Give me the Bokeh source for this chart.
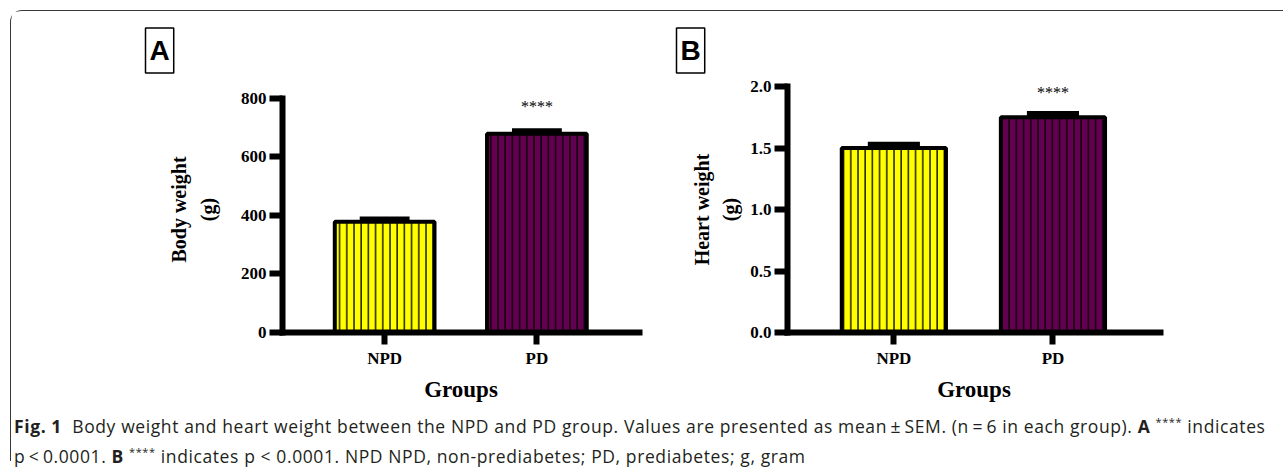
from bokeh.plotting import figure
from bokeh.models import ColumnDataSource, FixedTicker, Div, Range1d, PrintfTickFormatter, Title
from bokeh.layouts import row, column
from bokeh.embed import file_html
from bokeh.resources import INLINE
from bokeh.core.properties import value

# ---- data ----
groups = ["NPD", "PD"]
body_weight = [378, 678]
body_weight_sem = [9, 10]
heart_weight = [1.50, 1.75]
heart_weight_sem = [0.03, 0.03]
significance = ["", "****"]
body_ticks = [0, 200, 400, 600, 800]
heart_ticks = [0.0, 0.5, 1.0, 1.5, 2.0]
bar_colors = ["#FFFF00", "#640050"]
hatch_colors = ["#2e2e00", "#14000f"]

SERIF = "Liberation Serif"
BAR_W = 0.655


def make_panel(letter, ylabel, vals, sems, ticks, y_end, fmt, x_range, frame_w,
               b_left, b_right, ylabel_standoff, star_offset, letter_offset):
    xs = [i + 1 for i in range(len(groups))]
    tops = [v + s for v, s in zip(vals, sems)]
    src = ColumnDataSource(dict(
        x=xs, top=vals, err=tops, color=bar_colors, hatch=hatch_colors,
        cap0=[x - BAR_W / 4 for x in xs], cap1=[x + BAR_W / 4 for x in xs],
        sig=significance,
    ))
    p = figure(frame_width=frame_w, frame_height=246,
               x_range=Range1d(*x_range), y_range=Range1d(ticks[0], y_end),
               output_backend="svg", toolbar_location=None,
               min_border_left=b_left, min_border_top=75,
               min_border_right=b_right, min_border_bottom=75)
    p.outline_line_color = None
    p.grid.visible = False
    p.background_fill_color = "white"
    p.border_fill_color = "white"

    p.vbar(x="x", top="top", bottom=0, width=BAR_W, source=src,
           fill_color="color", line_color="black", line_width=4,
           hatch_pattern="vertical_line", hatch_color="hatch",
           hatch_scale=7.2, hatch_weight=1.6)
    p.segment(x0="x", y0="top", x1="x", y1="err", source=src,
              line_color="black", line_width=4)
    p.segment(x0="cap0", y0="err", x1="cap1", y1="err", source=src,
              line_color="black", line_width=5)
    p.text(x="x", y="err", text="sig", source=src, y_offset=star_offset,
           text_align="center", text_baseline="middle",
           text_font=value(SERIF), text_font_size="16px", text_color="black")

    for ax in (p.xaxis[0], p.yaxis[0]):
        ax.axis_line_width = 6
        ax.axis_line_color = "black"
        ax.axis_line_cap = "square"
        ax.major_tick_line_width = 6
        ax.major_tick_line_color = "black"
        ax.major_tick_in = 0
        ax.minor_tick_line_color = None
        ax.major_label_text_font = SERIF
        ax.major_label_text_font_style = "bold"
        ax.major_label_text_font_size = "17px"
        ax.major_label_text_color = "black"
        ax.axis_label_text_font = SERIF
        ax.axis_label_text_font_style = "bold"
        ax.axis_label_text_color = "black"

    xa = p.xaxis[0]
    xa.ticker = FixedTicker(ticks=xs)
    xa.major_label_overrides = {x: g for x, g in zip(xs, groups)}
    xa.major_tick_out = 12
    xa.major_label_standoff = 4
    xa.axis_label = "Groups"
    xa.axis_label_text_font_size = "23px"
    xa.axis_label_standoff = 6

    ya = p.yaxis[0]
    ya.ticker = FixedTicker(ticks=ticks)
    ya.bounds = (ticks[0], ticks[-1])
    ya.formatter = PrintfTickFormatter(format=fmt)
    ya.major_tick_out = 13
    ya.major_label_standoff = 3
    ya.axis_label = ylabel
    ya.axis_label_text_font_size = "20px"
    ya.axis_label_text_line_height = 1.3
    ya.axis_label_standoff = ylabel_standoff

    p.add_layout(Title(text=letter, align="left", offset=letter_offset,
                       vertical_align="top", standoff=23,
                       text_font="Liberation Sans", text_font_style="bold",
                       text_font_size="28px", text_color="black",
                       border_line_color="black", border_line_width=1.5,
                       background_fill_color="white", padding=(4, 7)), "above")
    return p


pA = make_panel("A", "Body weight\n(g)", body_weight, body_weight_sem,
                body_ticks, 839.3, "%d", (0.329, 2.674), 357, 271, 20, 19, -24,
                -137)
pB = make_panel("B", "Heart weight\n(g)", heart_weight, heart_weight_sem,
                heart_ticks, 2.0, "%.1f", (0.3314, 2.676), 373, 128, 40, 6, -21,
                -111)

caption = Div(
    text=(
        '<div style="font-family:\'Open Sans\';font-size:17.5px;color:#231f20;'
        'letter-spacing:0.6px;line-height:26px;padding:0 0 0 3px;white-space:nowrap;">'
        '<b>Fig.&nbsp;1</b>&nbsp;&nbsp;Body weight and heart weight between the NPD and PD group. '
        'Values are presented as mean&thinsp;&plusmn;&thinsp;SEM. (n&thinsp;=&thinsp;6 in each group). '
        '<b>A</b> <sup style="font-size:11px">****</sup> indicates<br>'
        'p&thinsp;&lt;&thinsp;0.0001. <b>B</b> <sup style="font-size:11px">****</sup> indicates p &lt; 0.0001. '
        'NPD NPD, non-prediabetes; PD, prediabetes; g, gram</div>'
    ),
    width=1272, height=52, margin=(2, 0, 0, 0),
)

layout = column(
    row(pA, pB),
    caption,
    margin=(10, 0, 0, 10),
    styles={"border-top": "1.5px solid #3a3a3a", "border-left": "1.5px solid #3a3a3a",
            "border-top-left-radius": "12px"},
)

open("out.html", "w").write(file_html(layout, INLINE))
